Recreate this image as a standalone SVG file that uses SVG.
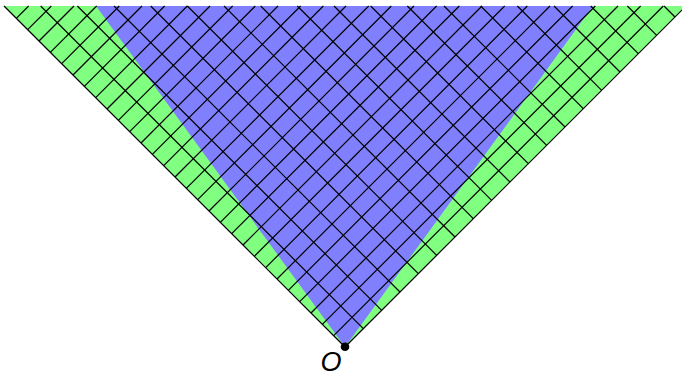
<svg xmlns="http://www.w3.org/2000/svg" width="682" height="373" viewBox="0 0 682 373">
<style>
.g{stroke:#000;stroke-width:1.2;fill:none}
.lbl{font-family:"Liberation Sans","DejaVu Sans",sans-serif;font-style:italic;font-size:27px;fill:#000}
</style>
<rect width="682" height="373" fill="#fff"/>
<g id="regions">
<polygon id="green-cone" points="4,6 686,6 345,347" fill="#80ff80"/>
<polygon id="blue-cone" points="96,6 593,6 345,347" fill="#8080ff"/>
</g>
<g id="grid" class="g">
<line x1="4" y1="6" x2="345" y2="347"/>
<line x1="345" y1="347" x2="686" y2="6"/>
<line x1="40.67" y1="6" x2="363.33" y2="328.67"/>
<line x1="77.33" y1="6" x2="381.67" y2="310.33"/>
<line x1="114" y1="6" x2="400" y2="292"/>
<line x1="150.67" y1="6" x2="418.33" y2="273.67"/>
<line x1="187.33" y1="6" x2="436.67" y2="255.33"/>
<line x1="224" y1="6" x2="455" y2="237"/>
<line x1="260.67" y1="6" x2="473.33" y2="218.67"/>
<line x1="297.33" y1="6" x2="491.67" y2="200.33"/>
<line x1="334" y1="6" x2="510" y2="182"/>
<line x1="370.67" y1="6" x2="528.33" y2="163.67"/>
<line x1="407.33" y1="6" x2="546.67" y2="145.33"/>
<line x1="444" y1="6" x2="565" y2="127"/>
<line x1="480.67" y1="6" x2="583.33" y2="108.67"/>
<line x1="517.33" y1="6" x2="601.67" y2="90.33"/>
<line x1="554" y1="6" x2="620" y2="72"/>
<line x1="590.67" y1="6" x2="638.33" y2="53.67"/>
<line x1="627.33" y1="6" x2="656.67" y2="35.33"/>
<line x1="664" y1="6" x2="675" y2="17"/>
<line x1="333.67" y1="335.67" x2="663.33" y2="6"/>
<line x1="322.33" y1="324.33" x2="640.67" y2="6"/>
<line x1="311" y1="313" x2="618" y2="6"/>
<line x1="299.67" y1="301.67" x2="595.33" y2="6"/>
<line x1="288.33" y1="290.33" x2="572.67" y2="6"/>
<line x1="277" y1="279" x2="550" y2="6"/>
<line x1="265.67" y1="267.67" x2="527.33" y2="6"/>
<line x1="254.33" y1="256.33" x2="504.67" y2="6"/>
<line x1="243" y1="245" x2="482" y2="6"/>
<line x1="231.67" y1="233.67" x2="459.33" y2="6"/>
<line x1="220.33" y1="222.33" x2="436.67" y2="6"/>
<line x1="209" y1="211" x2="414" y2="6"/>
<line x1="197.67" y1="199.67" x2="391.33" y2="6"/>
<line x1="186.33" y1="188.33" x2="368.67" y2="6"/>
<line x1="175" y1="177" x2="346" y2="6"/>
<line x1="163.67" y1="165.67" x2="323.33" y2="6"/>
<line x1="152.33" y1="154.33" x2="300.67" y2="6"/>
<line x1="141" y1="143" x2="278" y2="6"/>
<line x1="129.67" y1="131.67" x2="255.33" y2="6"/>
<line x1="118.33" y1="120.33" x2="232.67" y2="6"/>
<line x1="107" y1="109" x2="210" y2="6"/>
<line x1="95.67" y1="97.67" x2="187.33" y2="6"/>
<line x1="84.33" y1="86.33" x2="164.67" y2="6"/>
<line x1="73" y1="75" x2="142" y2="6"/>
<line x1="61.67" y1="63.67" x2="119.33" y2="6"/>
<line x1="50.33" y1="52.33" x2="96.67" y2="6"/>
<line x1="39" y1="41" x2="74" y2="6"/>
<line x1="27.67" y1="29.67" x2="51.33" y2="6"/>
<line x1="16.33" y1="18.33" x2="28.67" y2="6"/>
</g>
<g id="origin">
<circle cx="345" cy="346.7" r="4.3" fill="#000"/>
<text class="lbl" x="331" y="370.5" text-anchor="middle">O</text>
</g>
</svg>
